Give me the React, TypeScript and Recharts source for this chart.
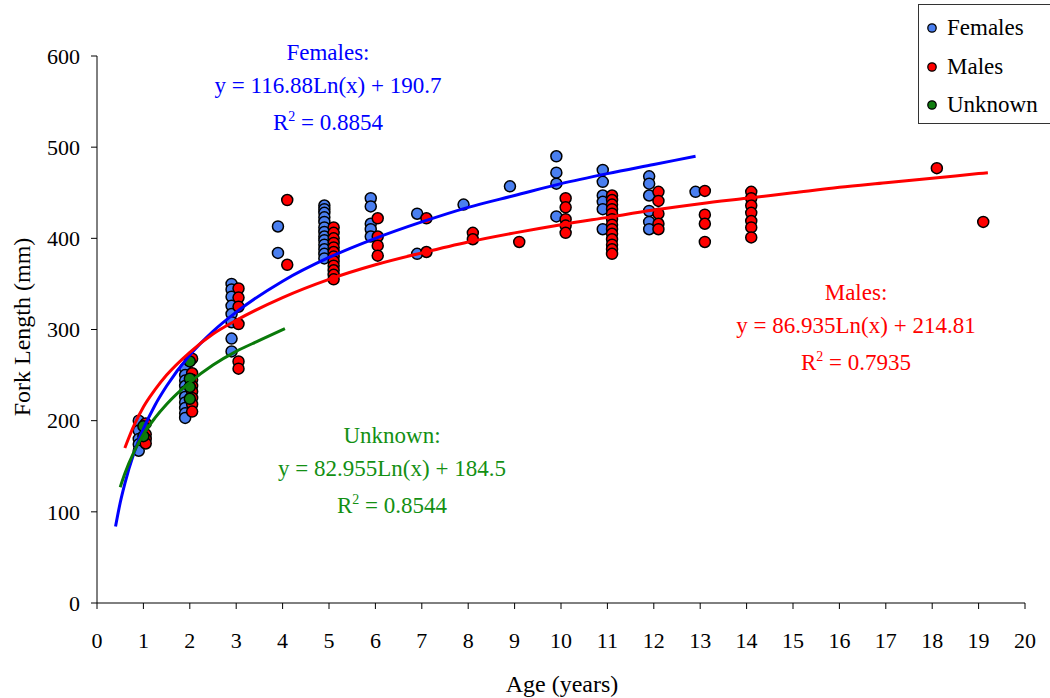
import React from "react";
import { ScatterChart, Scatter, XAxis, YAxis } from "recharts";

const SERIF = "'Liberation Serif', 'Times New Roman', serif";

// observed fish, grouped by age column
const femaleAges = [0.9, 1.9, 2.9, 3.9, 4.9, 5.9, 6.9, 7.9, 8.9, 9.9, 10.9, 11.9, 12.9];
const femaleLengths = [
    [200, 189, 180, 174, 167],
    [257, 250, 244, 238, 232, 226, 220, 214, 208, 203],
    [350, 344, 336, 326, 317, 308, 290, 276],
    [413, 384],
    [436, 432, 428, 423, 418, 412, 407, 402, 398, 393, 388, 383, 378],
    [444, 435, 416, 410, 402],
    [427, 383],
    [437],
    [457],
    [490, 472, 460, 424],
    [475, 462, 447, 440, 432, 410],
    [468, 460, 447, 430, 418, 410],
    [451],
];

const maleAges = [1.05, 2.05, 3.05, 4.1, 5.1, 6.05, 7.1, 8.1, 9.1, 10.1, 11.1, 12.1, 13.1, 14.1, 18.1, 19.1];
const maleLengths = [
    [197, 185, 180, 175],
    [268, 252, 245, 238, 232, 225, 218, 210],
    [345, 335, 325, 306, 265, 257],
    [442, 371],
    [412, 406, 400, 395, 390, 385, 380, 375, 370, 365, 360, 355],
    [422, 402, 392, 381],
    [422, 385],
    [406, 399],
    [396],
    [444, 434, 421, 414, 406],
    [447, 442, 437, 432, 427, 421, 415, 410, 405, 399, 393, 388, 383],
    [451, 441, 427, 416, 410],
    [452, 426, 416, 396],
    [451, 444, 436, 428, 419, 412, 401],
    [477],
    [418],
];

const unknownAges = [1.0, 2.0];
const unknownLengths = [
    [194, 183],
    [265, 246, 237, 224],
];

// trend curves
const femaleTrendAge = [0.4, 0.5, 0.6, 0.8, 1, 1.25, 1.5, 2, 2.5, 3, 4, 5, 6, 7, 8, 9, 10, 11, 12, 12.9];
const femaleTrendFL = [84, 110, 131, 165, 191, 217, 238, 272, 298, 319, 353, 379, 400, 418, 434, 447, 460, 471, 481, 490];
const maleTrendAge = [0.6, 0.8, 1, 1.25, 1.5, 2, 2.5, 3, 4, 5, 6, 7, 8, 9, 10, 11, 12, 13, 14, 15, 16, 17, 18, 19, 19.2];
const maleTrendFL = [170, 195, 215, 234, 250, 275, 295, 310, 335, 355, 371, 384, 396, 406, 415, 423, 431, 438, 444, 450, 456, 461, 466, 471, 472];
const unknownTrendAge = [0.5, 0.6, 0.8, 1, 1.25, 1.5, 2, 2.5, 3, 3.5, 4.05];
const unknownTrendFL = [127, 142, 166, 185, 203, 218, 242, 261, 276, 288, 301];

const xTicks = Array.from({ length: 21 }, (_, i) => i);
const yTicks = [0, 100, 200, 300, 400, 500, 600];

const toPoints = (ages: number[], lengths: number[][]) =>
    ages.flatMap((a, i) => lengths[i].map((y) => ({ x: a, y })));
const toLine = (ages: number[], fl: number[]) => ages.map((a, i) => ({ x: a, y: fl[i] }));

const dot = (fill: string) => (p: any) => (
    <circle cx={p.cx} cy={p.cy} r={5.5} fill={fill} stroke="#000" strokeWidth={1.5} />
);
const noDot = () => <g />;

const FEMALE = "#4a7ff0";
const MALE = "#ff0000";
const UNKNOWN = "#0f7d0f";

function Note({ x, y, color, title, eq, r2 }: { x: number; y: number; color: string; title: string; eq: string; r2: string }) {
    const base: React.CSSProperties = { position: "absolute", left: 0, width: 300, textAlign: "center", transform: "translateY(-50%)", lineHeight: 1 };
    return (
        <div style={{ position: "absolute", left: x - 150, top: y, width: 300, color, fontFamily: SERIF, fontSize: 23 }}>
            <div style={{ ...base, top: 0 }}>{title}</div>
            <div style={{ ...base, top: 33 }}>{eq}</div>
            <div style={{ ...base, top: 70 }}>
                R<sup style={{ fontSize: 14, verticalAlign: "9px", lineHeight: 0 }}>2</sup> = {r2}
            </div>
        </div>
    );
}

export default function App() {
    const tickStyle = { fontSize: 22, fill: "#000", fontFamily: SERIF };
    const legendItems = [
        { name: "Females", color: FEMALE },
        { name: "Males", color: MALE },
        { name: "Unknown", color: UNKNOWN },
    ];
    return (
        <div style={{ position: "absolute", left: 0, top: 0, width: 1050, height: 698, background: "#fff" }}>
            <ScatterChart width={1050} height={698} margin={{ top: 56, right: 25, bottom: 35, left: 37 }}>
                <XAxis
                    type="number"
                    dataKey="x"
                    domain={[0, 20]}
                    ticks={xTicks}
                    interval={0}
                    stroke="#000"
                    tickSize={6}
                    tickMargin={23}
                    tick={tickStyle}
                    height={60}
                />
                <YAxis
                    type="number"
                    dataKey="y"
                    domain={[0, 600]}
                    ticks={yTicks}
                    interval={0}
                    stroke="#000"
                    tickSize={6}
                    tickMargin={11}
                    tick={tickStyle}
                    width={60}
                />
                <Scatter data={toPoints(femaleAges, femaleLengths)} shape={dot(FEMALE)} isAnimationActive={false} />
                <Scatter data={toPoints(maleAges, maleLengths)} shape={dot(MALE)} isAnimationActive={false} />
                <Scatter data={toPoints(unknownAges, unknownLengths)} shape={dot(UNKNOWN)} isAnimationActive={false} />
                <Scatter
                    data={toLine(femaleTrendAge, femaleTrendFL)}
                    shape={noDot}
                    line={{ stroke: "#0000ff", strokeWidth: 3 }}
                    lineJointType="monotoneX"
                    isAnimationActive={false}
                />
                <Scatter
                    data={toLine(maleTrendAge, maleTrendFL)}
                    shape={noDot}
                    line={{ stroke: "#ff0000", strokeWidth: 3 }}
                    lineJointType="monotoneX"
                    isAnimationActive={false}
                />
                <Scatter
                    data={toLine(unknownTrendAge, unknownTrendFL)}
                    shape={noDot}
                    line={{ stroke: "#0a7a0a", strokeWidth: 3 }}
                    lineJointType="monotoneX"
                    isAnimationActive={false}
                />
            </ScatterChart>

            <Note x={328} y={52} color="#0000ff" title="Females:" eq="y = 116.88Ln(x) + 190.7" r2="0.8854" />
            <Note x={856} y={292} color="#ff0000" title="Males:" eq="y = 86.935Ln(x) + 214.81" r2="0.7935" />
            <Note x={392} y={435} color="#139013" title="Unknown:" eq="y = 82.955Ln(x) + 184.5" r2="0.8544" />

            <div style={{ position: "absolute", left: 562, top: 684, transform: "translate(-50%, -50%)", fontFamily: SERIF, fontSize: 24, whiteSpace: "nowrap" }}>
                Age (years)
            </div>
            <div style={{ position: "absolute", left: 22, top: 327, transform: "translate(-50%, -50%) rotate(-90deg)", fontFamily: SERIF, fontSize: 24, whiteSpace: "nowrap" }}>
                Fork Length (mm)
            </div>

            <div style={{ position: "absolute", left: 918, top: 4, width: 140, height: 118, border: "1px solid #333", fontFamily: SERIF, fontSize: 23 }}>
                {legendItems.map((it, i) => (
                    <div key={it.name} style={{ position: "absolute", left: 7, top: 8 + i * 38.5, height: 30, display: "flex", alignItems: "center" }}>
                        <svg width={12} height={12} style={{ marginRight: 9 }}>
                            <circle cx={6} cy={6} r={4.2} fill={it.color} stroke="#000" strokeWidth={1.3} />
                        </svg>
                        <span>{it.name}</span>
                    </div>
                ))}
            </div>
        </div>
    );
}
